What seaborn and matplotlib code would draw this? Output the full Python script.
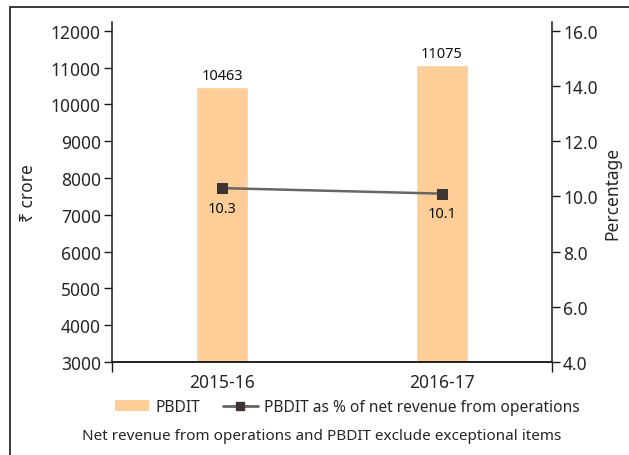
import matplotlib
matplotlib.use("Agg")
import matplotlib.pyplot as plt
from matplotlib.patches import Rectangle, Patch
from matplotlib.lines import Line2D
import pandas as pd
import seaborn as sns

# ---- data ----
years = ["2015-16", "2016-17"]
pbdit = [10463, 11075]
pbdit_pct = [10.3, 10.1]

bar_color = "#FDCE97"
line_color = "#666666"
marker_color = "#3e3434"

sns.set_theme(style="white")
plt.rcParams["font.family"] = ["Noto Sans", "DejaVu Sans"]

df = pd.DataFrame({"year": years, "pbdit": pbdit, "pct": pbdit_pct})

fig = plt.figure(figsize=(6.29, 4.56), dpi=100)
ax = fig.add_axes([0.178, 0.204, 0.6996, 0.7456])

sns.barplot(data=df, x="year", y="pbdit", color=bar_color, width=0.24,
            saturation=1, ax=ax, zorder=1)
ax.set_xlim(-0.5, 1.5)
ax.set_ylim(3000, 12243)
ax.set_yticks(range(3000, 12001, 1000))
ax.set_xlabel("")
ax.set_ylabel("₹ crore", fontsize=12.5, labelpad=10)

for i, v in enumerate(pbdit):
    ax.text(i, v + 110, str(v), ha="center", va="bottom", fontsize=10.5,
            color="#111111")

# right axis: percentage line
ax2 = ax.twinx()
sns.lineplot(data=df, x="year", y="pct", ax=ax2, color=line_color, lw=1.8,
             marker="s", markersize=7, markerfacecolor=marker_color,
             markeredgecolor=marker_color)
ax2.set_ylim(4, 16.32)
ax2.set_yticks([4, 6, 8, 10, 12, 14, 16])
ax2.set_yticklabels([f"{t:.1f}" for t in [4, 6, 8, 10, 12, 14, 16]])
ax2.set_ylabel("Percentage", fontsize=12.5, labelpad=4)
ax2.set_xlabel("")
for i, v in enumerate(pbdit_pct):
    ax2.text(i, v - 0.45, f"{v}", ha="center", va="top", fontsize=10.5,
             color="#111111")

# spines and ticks
for a in (ax, ax2):
    a.spines["top"].set_visible(False)
    for s in ["left", "right", "bottom"]:
        a.spines[s].set_color("#1a1a1a")
        a.spines[s].set_linewidth(1.1)
ax.spines["right"].set_visible(False)
ax2.spines["left"].set_visible(False)

ax.tick_params(axis="y", direction="out", length=6, width=1, color="#1a1a1a",
               labelsize=12.5, pad=2, left=True)
ax2.tick_params(axis="y", direction="out", length=6, width=1, color="#1a1a1a",
                labelsize=12.5, pad=2, right=True)
ax.set_xticks([0, 1])
ax.set_xticklabels(years)
ax.tick_params(axis="x", which="major", length=0, labelsize=12.5, pad=8)
ax.set_xticks([-0.5, 1.5], minor=True)
ax.tick_params(axis="x", which="minor", direction="out", length=7, width=1,
               color="#1a1a1a", bottom=True)

# legend
handles = [
    Patch(facecolor=bar_color, edgecolor="none", label="PBDIT"),
    Line2D([0], [0], color=line_color, lw=2, marker="s", markersize=6,
           markerfacecolor=marker_color, markeredgecolor=marker_color,
           label="PBDIT as % of net revenue from operations"),
]
fig.legend(handles=handles, loc="center", bbox_to_anchor=(0.552, 0.105),
           ncol=2, frameon=False, fontsize=11.2, handlelength=2.2,
           handletextpad=0.4, columnspacing=1.5)

fig.text(0.511, 0.042, "Net revenue from operations and PBDIT exclude exceptional items",
         ha="center", va="center", fontsize=11)

# outer frame
fig.patches.append(Rectangle((10 / 629, -0.1), 1.1, 1.0824, transform=fig.transFigure,
                             fill=False, edgecolor="#1a1a1a", lw=1.2, zorder=0))

fig.savefig("out.png", dpi=100)
